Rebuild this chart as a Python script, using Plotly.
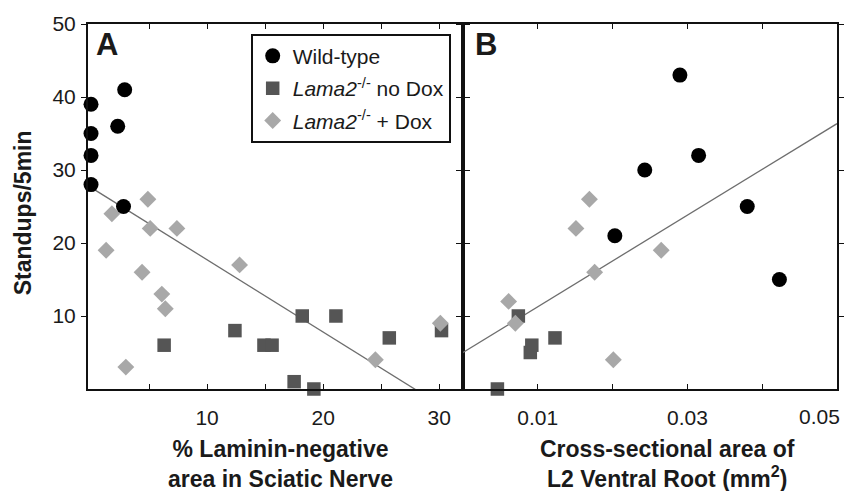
import plotly.graph_objects as go

# ---- data ----
# Panel A: % laminin-negative area vs standups
wt_a_x = [0, 0, 0, 0, 2.9, 2.3, 2.8]
wt_a_y = [39, 35, 32, 28, 41, 36, 25]
nodox_a_x = [6.3, 12.4, 14.9, 15.6, 17.5, 19.2, 18.2, 21.1, 25.7, 30.2]
nodox_a_y = [6, 8, 6, 6, 1, 0, 10, 10, 7, 8]
dox_a_x = [1.8, 1.3, 4.9, 5.1, 7.4, 4.4, 6.1, 6.4, 3.0, 12.8, 24.5, 30.1]
dox_a_y = [24, 19, 26, 22, 22, 16, 13, 11, 3, 17, 4, 9]
fit_a = [27.6, -0.99]  # intercept, slope

# Panel B: cross-sectional area vs standups
wt_b_x = [0.0290, 0.0315, 0.0243, 0.0203, 0.0380, 0.0423]
wt_b_y = [43, 32, 30, 21, 25, 15]
nodox_b_x = [0.0074, 0.0092, 0.0090, 0.0123, 0.0046]
nodox_b_y = [10, 6, 5, 7, 0]
dox_b_x = [0.0061, 0.0070, 0.0169, 0.0151, 0.0176, 0.0265, 0.0201]
dox_b_y = [12, 9, 26, 22, 16, 19, 4]
fit_b = [5.0, 627.0]

xa_ticks = [5, 10, 15, 20, 25, 30]
xa_labels = ["", "10", "", "20", "", "30"]
xb_ticks = [0.01, 0.02, 0.03, 0.04, 0.05]
xb_labels = ["0.01", "", "0.03", "", ""]
xb_last_label = "0.05"
y_ticks = [10, 20, 30, 40, 50]

xa_range = [-0.26, 32.05]
xb_range = [0, 0.05]
y_range = [0, 50]

FONT = "Liberation Sans, Arial, sans-serif"
TXT = "#1a1a1a"
C_WT = "#000000"
C_ND = "#555555"
C_D = "#a8a8a8"
LINE_C = "#6e6e6e"

fig = go.Figure()

# regression lines
fa_x = [xa_range[0], 29.0]
fig.add_trace(go.Scatter(x=fa_x, y=[fit_a[0] + fit_a[1] * v for v in fa_x],
                         mode="lines", line=dict(color=LINE_C, width=1.3),
                         showlegend=False, xaxis="x", yaxis="y", hoverinfo="skip"))
fb_x = list(xb_range)
fig.add_trace(go.Scatter(x=fb_x, y=[fit_b[0] + fit_b[1] * v for v in fb_x],
                         mode="lines", line=dict(color=LINE_C, width=1.3),
                         showlegend=False, xaxis="x2", yaxis="y2", hoverinfo="skip"))

sq = dict(symbol="square", size=13.5, color=C_ND)
dm = dict(symbol="diamond", size=13, color=C_D)
ci = dict(symbol="circle", size=15, color=C_WT)

fig.add_trace(go.Scatter(x=nodox_a_x, y=nodox_a_y, mode="markers", marker=sq,
                         name="<i>Lama2</i><sup>-/-</sup> no Dox", legendrank=2,
                         legendgroup="nd", xaxis="x", yaxis="y", cliponaxis=False))
fig.add_trace(go.Scatter(x=nodox_b_x, y=nodox_b_y, mode="markers", marker=sq,
                         showlegend=False, legendgroup="nd", xaxis="x2", yaxis="y2",
                         cliponaxis=False))
fig.add_trace(go.Scatter(x=dox_a_x, y=dox_a_y, mode="markers", marker=dm,
                         name="<i>Lama2</i><sup>-/-</sup> + Dox", legendrank=3,
                         legendgroup="d", xaxis="x", yaxis="y", cliponaxis=False))
fig.add_trace(go.Scatter(x=dox_b_x, y=dox_b_y, mode="markers", marker=dm,
                         showlegend=False, legendgroup="d", xaxis="x2", yaxis="y2",
                         cliponaxis=False))
fig.add_trace(go.Scatter(x=wt_a_x, y=wt_a_y, mode="markers", marker=ci,
                         name="Wild-type", legendrank=1,
                         legendgroup="wt", xaxis="x", yaxis="y", cliponaxis=False))
fig.add_trace(go.Scatter(x=wt_b_x, y=wt_b_y, mode="markers", marker=ci,
                         showlegend=False, legendgroup="wt", xaxis="x2", yaxis="y2",
                         cliponaxis=False))

split = (466 - 88) / 755

axis_common = dict(showline=True, linewidth=2, linecolor="#111111", mirror="ticks",
                   showgrid=False, zeroline=False, ticklen=5, tickwidth=1.3,
                   tickcolor="#111111", tickfont=dict(family=FONT, size=21, color=TXT))

fig.update_layout(
    width=856, height=491,
    margin=dict(l=88, r=13, t=12, b=102),
    paper_bgcolor="white", plot_bgcolor="white",
    font=dict(family=FONT, color=TXT),
    xaxis=dict(domain=[0, split], range=xa_range, tickmode="array", tickvals=xa_ticks,
               ticktext=xa_labels, ticks="inside", anchor="y", ticklabelstandoff=9,
               **axis_common),
    xaxis2=dict(domain=[split, 1], range=xb_range, tickmode="array", tickvals=xb_ticks,
                ticktext=xb_labels, ticks="inside", anchor="y2", ticklabelstandoff=9,
                **axis_common),
    yaxis=dict(domain=[0, 1], range=y_range, tickmode="array", tickvals=y_ticks,
               ticks="outside", anchor="x", ticklabelstandoff=1, **axis_common),
    yaxis2=dict(domain=[0, 1], range=y_range, tickmode="array", tickvals=y_ticks,
                ticks="outside", anchor="x2", showticklabels=False, **axis_common),
    showlegend=True,
    legend=dict(x=(252 - 88) / 755, y=(389 - 22) / 377, xanchor="left", yanchor="top",
                bgcolor="white", bordercolor="#111111", borderwidth=2,
                font=dict(family=FONT, size=21, color=TXT),
                traceorder="grouped", tracegroupgap=2, itemsizing="trace"),
)

ann = dict(showarrow=False, xref="paper", yref="paper")
fig.add_annotation(text="<b>A</b>", x=(107 - 88) / 755, y=(389 - 33) / 377,
                   xanchor="center", yanchor="middle",
                   font=dict(family=FONT, color=TXT, size=31), **ann)
fig.add_annotation(text="<b>B</b>", x=(489 - 88) / 755, y=(389 - 33) / 377,
                   xanchor="center", yanchor="middle",
                   font=dict(family=FONT, color=TXT, size=31), **ann)
fig.add_annotation(text=xb_last_label, x=(848 - 88) / 755, y=(389 - 417) / 377,
                   xanchor="right", yanchor="middle",
                   font=dict(family=FONT, color=TXT, size=21), **ann)
fig.add_annotation(text="<b>Standups/5min</b>", x=(22 - 88) / 755, y=(389 - 207) / 377,
                   textangle=-90, xanchor="center", yanchor="middle",
                   font=dict(family=FONT, color=TXT, size=23), **ann)
fig.add_annotation(text="<b>% Laminin-negative<br>area in Sciatic Nerve</b>",
                   x=(282 - 88) / 755, y=(389 - 466) / 377, xanchor="center", yanchor="middle",
                   font=dict(family=FONT, color=TXT, size=23), **ann)
fig.add_annotation(text="<b>Cross-sectional area of<br>L2 Ventral Root (mm<sup>2</sup>)</b>",
                   x=(672 - 88) / 755, y=(389 - 466) / 377, xanchor="center", yanchor="middle",
                   font=dict(family=FONT, color=TXT, size=23), **ann)

fig.write_html("out.html")
